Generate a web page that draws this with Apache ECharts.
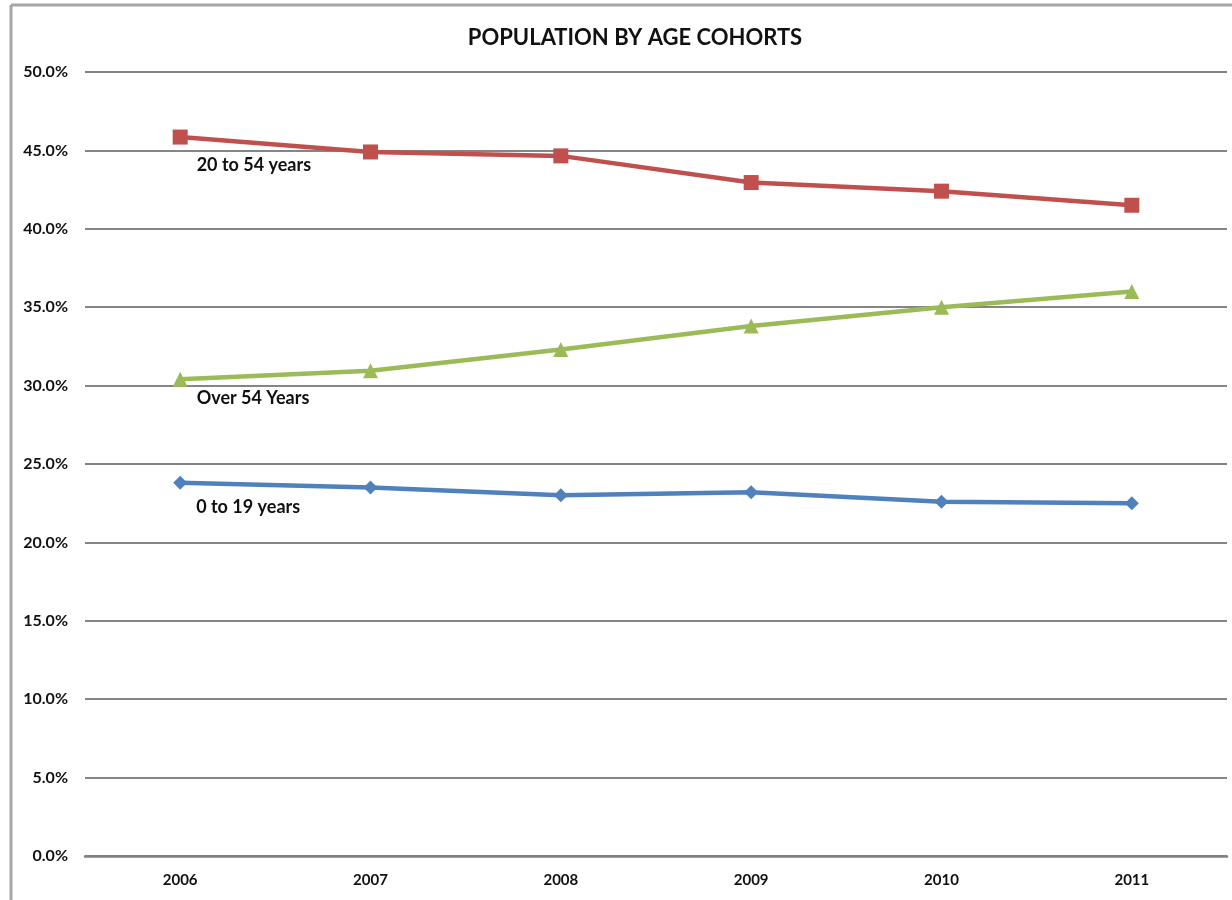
<!DOCTYPE html>
<html>
<head>
<meta charset="utf-8">
<script src="https://cdn.jsdelivr.net/npm/echarts@6/dist/echarts.min.js"></script>
<style>
html,body{margin:0;padding:0;background:#fff;}
#chart{width:1232px;height:900px;}
</style>
</head>
<body>
<div id="chart"></div>
<script>
const years = ['2006', '2007', '2008', '2009', '2010', '2011'];
const age20to54 = [45.85, 44.9, 44.65, 42.95, 42.4, 41.5];
const over54 = [30.4, 30.95, 32.3, 33.8, 35.0, 36.0];
const age0to19 = [23.8, 23.5, 23.0, 23.2, 22.6, 22.5];
const seriesNames = ['20 to 54 years', 'Over 54 Years', '0 to 19 years'];
const yTicks = [0, 5, 10, 15, 20, 25, 30, 35, 40, 45, 50];

const chart = echarts.init(document.getElementById('chart'));
const font = 'Lato, "Open Sans", sans-serif';

function firstLabel(text, dy) {
  return {
    show: true,
    position: 'right',
    distance: 5,
    offset: [4, dy],
    formatter: text,
    color: '#111',
    fontFamily: font,
    fontWeight: 'bold',
    fontSize: 18
  };
}

function makeData(vals, name, dy) {
  return vals.map((v, i) => i === 0 ? { value: v, label: firstLabel(name, dy) } : v);
}

chart.setOption({
  animation: false,
  backgroundColor: '#fff',
  title: {
    text: 'POPULATION BY AGE COHORTS',
    left: 630,
    top: 22,
    textAlign: 'center',
    textStyle: { fontFamily: font, fontWeight: 'bold', fontSize: 22, color: '#111' }
  },
  graphic: [
    { type: 'line', shape: { x1: 11, y1: 5, x2: 11, y2: 900 }, style: { stroke: '#a6a6a6', lineWidth: 3 } },
    { type: 'line', shape: { x1: 11, y1: 5, x2: 1232, y2: 5 }, style: { stroke: '#a6a6a6', lineWidth: 3 } }
  ],
  grid: { left: 85, right: 5, top: 72, bottom: 44, containLabel: false },
  xAxis: {
    type: 'category',
    data: years,
    boundaryGap: true,
    axisLine: { show: true, lineStyle: { color: '#808080', width: 2.5 } },
    axisTick: { show: false },
    axisLabel: { margin: 17, color: '#111', fontFamily: font, fontWeight: 'bold', fontSize: 15 }
  },
  yAxis: {
    type: 'value',
    min: yTicks[0],
    max: yTicks[yTicks.length - 1],
    interval: 5,
    axisLine: { show: false },
    axisTick: { show: false },
    splitLine: { show: true, lineStyle: { color: '#858585', width: 2 } },
    axisLabel: {
      margin: 17,
      color: '#111',
      fontFamily: font,
      fontWeight: 'bold',
      fontSize: 16,
      formatter: v => v.toFixed(1) + '%'
    }
  },
  series: [
    {
      name: seriesNames[0],
      type: 'line',
      data: makeData(age20to54, seriesNames[0], 28),
      symbol: 'rect',
      symbolSize: 15,
      lineStyle: { color: '#C0504D', width: 4.5 },
      itemStyle: { color: '#C0504D' },
      label: { show: false }
    },
    {
      name: seriesNames[1],
      type: 'line',
      data: makeData(over54, seriesNames[1], 19),
      symbol: 'triangle',
      symbolSize: 15,
      lineStyle: { color: '#9BBB59', width: 4.5 },
      itemStyle: { color: '#9BBB59' },
      label: { show: false }
    },
    {
      name: seriesNames[2],
      type: 'line',
      data: makeData(age0to19, seriesNames[2], 24),
      symbol: 'diamond',
      symbolSize: 14,
      lineStyle: { color: '#4F81BD', width: 4.5 },
      itemStyle: { color: '#4F81BD' },
      label: { show: false }
    }
  ]
});
</script>
</body>
</html>
